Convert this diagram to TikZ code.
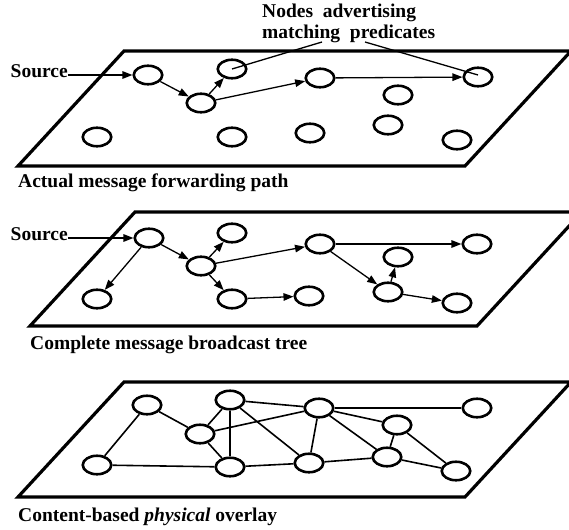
\documentclass[tikz,border=0pt]{standalone}
\usepackage{fontspec}
\setmainfont{Liberation Serif}
\usetikzlibrary{shapes.geometric,arrows.meta,calc}

\begin{document}
\begin{tikzpicture}[x=1pt,y=-1pt,
  plane/.style={line width=3.2pt,line join=miter},
  peer/.style={ellipse,draw,line width=2.6pt,minimum width=28.5pt,
               minimum height=18.5pt,inner sep=0pt},
  fwd/.style={line width=1.3pt,-{Triangle[length=10pt,width=7.5pt]}},
  link/.style={line width=1.6pt},
  lbl/.style={inner sep=0pt,font=\fontsize{19.5}{22}\selectfont\bfseries},
  callout/.style={line width=1.3pt}]

\useasboundingbox (0,0) rectangle (569,529);

% ---------- layer 1: forwarding path ----------
\draw[plane] (124,51) -- (571,51) -- (465,166) -- (18,166) -- cycle;
\node[peer] (A1) at (148,75) {};
\node[peer] (A2) at (201,103) {};
\node[peer] (A3) at (232,69) {};
\node[peer] (A4) at (320,78) {};
\node[peer] (A5) at (478,77) {};
\node[peer] (A6) at (398,95) {};
\node[peer] (A7) at (97,137) {};
\node[peer] (A8) at (232,137) {};
\node[peer] (A9) at (310,133) {};
\node[peer] (A10) at (388,125) {};
\node[peer] (A11) at (457,140) {};

\node[lbl,anchor=mid east] (src1) at (68,75) {Source};
\draw[fwd] (src1.mid east) -- (A1);
\draw[fwd] (A1) -- (A2);
\draw[fwd] (A2) -- (A3);
\draw[fwd] (A2) -- (A4);
\draw[fwd] (A4) -- (A5);

\node[lbl,anchor=base west] (adv1) at (262,18) {Nodes\ \ advertising};
\node[lbl,anchor=base west] (adv2) at (262,39) {matching\ \ predicates};
\coordinate (m1) at (322,42);
\coordinate (m2) at (365,42);
\draw[callout] (m1) -- (A3.center);
\draw[callout] (m2) -- ($(A5.center)+(0,-2)$);

\node[lbl,anchor=base west] (cap1) at (18,187) {Actual message forwarding path};

% ---------- layer 2: broadcast tree ----------
\draw[plane] (135,212) -- (582,212) -- (477,326) -- (30,326) -- cycle;
\node[peer] (B1) at (149,238) {};
\node[peer] (B2) at (201,266) {};
\node[peer] (B3) at (232,233) {};
\node[peer] (B4) at (97,299) {};
\node[peer] (B5) at (232,299) {};
\node[peer] (B6) at (320,244) {};
\node[peer] (B7) at (477,244) {};
\node[peer] (B8) at (398,257) {};
\node[peer] (B9) at (388,292) {};
\node[peer] (B10) at (457,303) {};
\node[peer] (B11) at (309,296) {};

\node[lbl,anchor=mid east] (src2) at (68,238) {Source};
\draw[fwd] (src2.mid east) -- (B1);
\draw[fwd] (B1) -- (B4);
\draw[fwd] (B1) -- (B2);
\draw[fwd] (B2) -- (B3);
\draw[fwd] (B2) -- (B6);
\draw[fwd] (B2) -- (B5);
\draw[fwd] (B5) -- (B11);
\draw[fwd] (B6) -- (B7);
\draw[fwd] (B6) -- (B9);
\draw[fwd] (B9) -- (B8);
\draw[fwd] (B9) -- (B10);

\node[lbl,anchor=base west] (cap2) at (30,349) {Complete message broadcast tree};

% ---------- layer 3: physical overlay ----------
\draw[plane] (124,382) -- (571,382) -- (465,497) -- (18,497) -- cycle;
\node[peer] (C1) at (147,405) {};
\node[peer] (C2) at (200,434) {};
\node[peer] (C3) at (230,400) {};
\node[peer] (C4) at (97,465) {};
\node[peer] (C5) at (230,467) {};
\node[peer] (C6) at (319,408) {};
\node[peer] (C7) at (477,408) {};
\node[peer] (C8) at (397,425) {};
\node[peer] (C9) at (387,457) {};
\node[peer] (C10) at (456,471) {};
\node[peer] (C11) at (309,463) {};

\draw[link] (C1) -- (C4);
\draw[link] (C1) -- (C2);
\draw[link] (C4) -- (C5);
\draw[link] (C2) -- (C3);
\draw[link] (C2) -- (C5);
\draw[link] (C3) -- (C5);
\draw[link] (C3) -- (C6);
\draw[link] (C2) -- (C6);
\draw[link] (C3) -- (C11);
\draw[link] (C5) -- (C11);
\draw[link] (C6) -- (C11);
\draw[link] (C6) -- (C7);
\draw[link] (C6) -- (C8);
\draw[link] (C6) -- (C9);
\draw[link] (C8) -- (C9);
\draw[link] (C8) -- (C10);
\draw[link] (C9) -- (C10);
\draw[link] (C11) -- (C9);

\node[lbl,anchor=base west] (cap3) at (18,521)
  {Content-based \textit{physical} overlay};
\end{tikzpicture}
\end{document}
